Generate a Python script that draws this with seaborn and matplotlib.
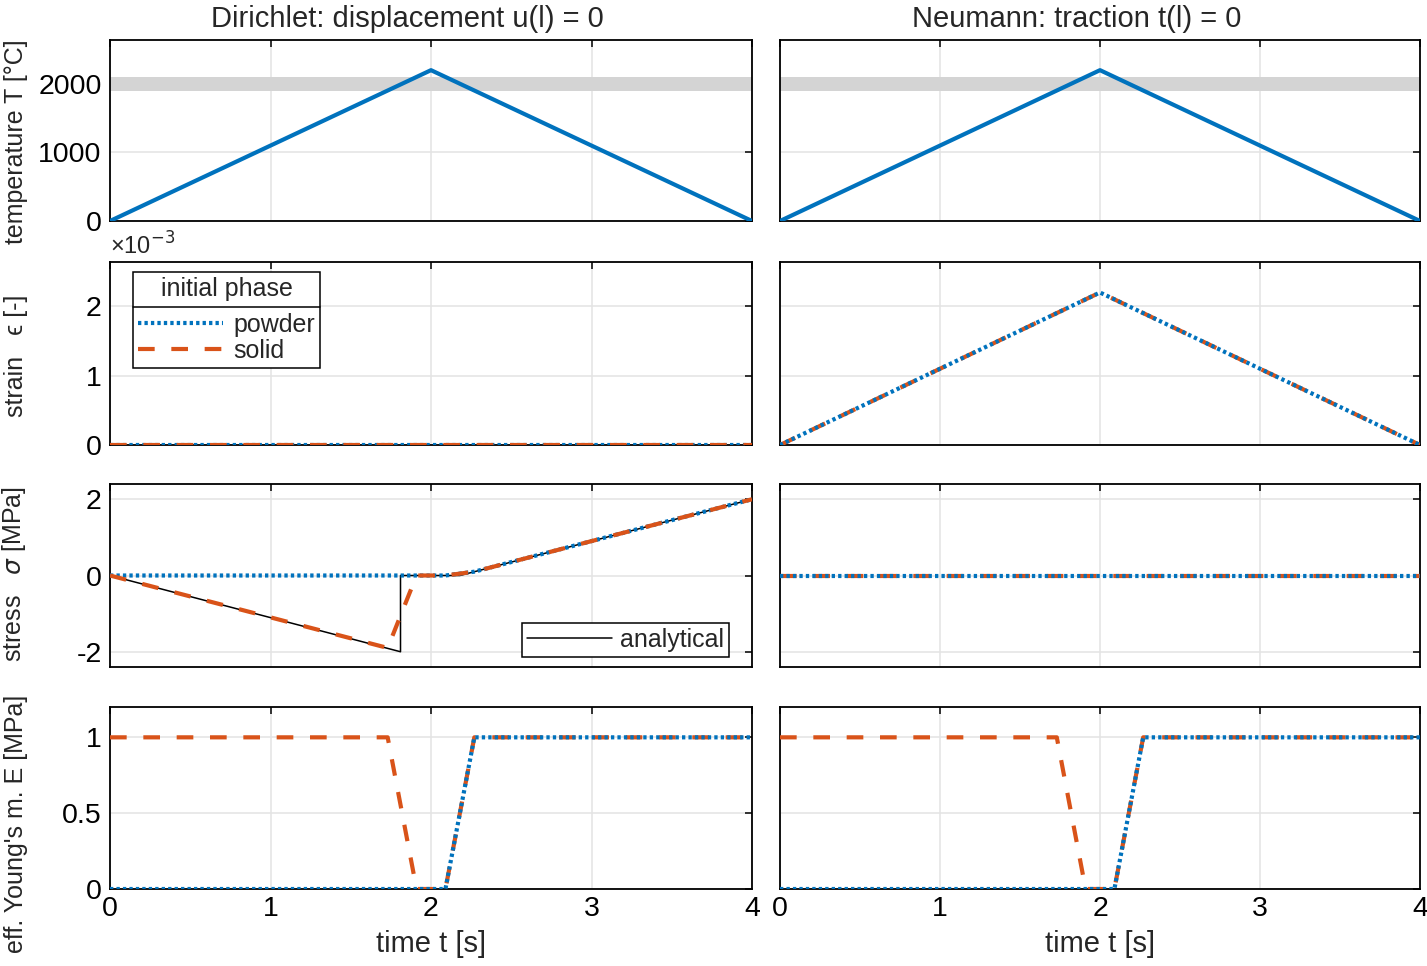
import numpy as np
import pandas as pd
import matplotlib.pyplot as plt
import seaborn as sns
from matplotlib.lines import Line2D

# valores (puntos de quiebre)
t_temp = [0, 2, 4]
temp = [0, 2200, 0]
banda_fusion = [1900, 2100]

t_cero = [0, 4]
cero = [0, 0]

t_strain = [0, 2, 4]
strain_neumann = [0, 2.2, 0]  # x 1e-3

t_stress_powder = [0, 2.09, 2.27, 4]
stress_powder = [0, 0, 0.1, 2.0]
t_stress_solid = [0, 1.73, 1.91, 2.09, 2.27, 4]
stress_solid = [0, -1.9, 0, 0, 0.1, 2.0]
t_analitico = [0, 1.81, 1.81, 2.18, 4]
stress_analitico = [0, -2.0, 0, 0, 2.0]

t_E_powder = [0, 2.09, 2.27, 4]
E_powder = [0, 0, 1, 1]
t_E_solid = [0, 1.73, 1.91, 2.09, 2.27, 4]
E_solid = [1, 1, 0, 0, 1, 1]

titulos = ["Dirichlet: displacement u(l) = 0", "Neumann: traction t(l) = 0"]
etiquetas_y = ["temperature T [°C]", "strain   \u03f5 [-]",
               "stress   $\\sigma$ [MPa]", "eff. Young's m. E [MPa]"]

azul = "#0072BD"
naranja = "#D95319"

sns.set_style("white")
plt.rcParams['font.family'] = ['Liberation Sans', 'DejaVu Sans']
plt.rcParams['mathtext.fontset'] = 'dejavusans'
plt.rcParams['axes.unicode_minus'] = False

fig = plt.figure(figsize=(14.27, 9.66), dpi=100)
W, H = 1427, 966
cols = [(110, 752), (780, 1420)]
rows = [(40, 221), (262, 445), (484, 667), (707, 889)]

lw = 3.0
pw = dict(color=azul, lw=lw, linestyle=(0, (0.8, 0.75)))
sw = dict(color=naranja, lw=lw, linestyle=(0, (4, 4)))

axes = []
for i, (y0, y1) in enumerate(rows):
    fila = []
    for j, (x0, x1) in enumerate(cols):
        ax = fig.add_axes([x0 / W, 1 - y1 / H, (x1 - x0) / W, (y1 - y0) / H])
        fila.append(ax)
    axes.append(fila)

for j in range(2):
    # temperatura
    ax = axes[0][j]
    ax.axhspan(banda_fusion[0], banda_fusion[1], color="#d4d4d4", lw=0, zorder=1.5)
    sns.lineplot(x=t_temp, y=temp, ax=ax, color=azul, lw=lw, sort=False, estimator=None, zorder=3)
    ax.set_ylim(0, 2640)
    ax.set_yticks([0, 1000, 2000])

    # deformacion
    ax = axes[1][j]
    if j == 0:
        sns.lineplot(x=t_cero, y=cero, ax=ax, sort=False, estimator=None, zorder=3, **pw)
        sns.lineplot(x=t_cero, y=cero, ax=ax, sort=False, estimator=None, zorder=3, **sw)
    else:
        sns.lineplot(x=t_strain, y=strain_neumann, ax=ax, sort=False, estimator=None, zorder=3, **sw)
        sns.lineplot(x=t_strain, y=strain_neumann, ax=ax, sort=False, estimator=None, zorder=3, **pw)
    ax.set_ylim(0, 2.64)
    ax.set_yticks([0, 1, 2])

    # tension
    ax = axes[2][j]
    if j == 0:
        sns.lineplot(x=t_analitico, y=stress_analitico, ax=ax, color="black", lw=1.1,
                     sort=False, estimator=None, zorder=3)
        sns.lineplot(x=t_stress_powder, y=stress_powder, ax=ax, sort=False, estimator=None, zorder=3, **pw)
        sns.lineplot(x=t_stress_solid, y=stress_solid, ax=ax, sort=False, estimator=None, zorder=3, **sw)
    else:
        sns.lineplot(x=t_cero, y=cero, ax=ax, sort=False, estimator=None, zorder=3, **sw)
        sns.lineplot(x=t_cero, y=cero, ax=ax, sort=False, estimator=None, zorder=3, **pw)
    ax.set_ylim(-2.4, 2.4)
    ax.set_yticks([-2, 0, 2])

    # modulo de Young
    ax = axes[3][j]
    sns.lineplot(x=t_E_solid, y=E_solid, ax=ax, sort=False, estimator=None, zorder=3, **sw)
    sns.lineplot(x=t_E_powder, y=E_powder, ax=ax, sort=False, estimator=None, zorder=3, **pw)
    ax.set_ylim(0, 1.2)
    ax.set_yticks([0, 0.5, 1])
    ax.set_yticklabels(["0", "0.5", "1"])

label_y = [0.44, 0.49, 0.51, 0.36]
for i in range(4):
    for j in range(2):
        ax = axes[i][j]
        ax.set_xlim(0, 4)
        ax.set_xticks([0, 1, 2, 3, 4])
        ax.grid(True, color="#e3e3e3", lw=1.1, zorder=0)
        ax.set_axisbelow(True)
        for s in ax.spines.values():
            s.set_color("black")
            s.set_linewidth(1.3)
        ax.tick_params(direction="in", top=True, right=True, length=5, width=1.1,
                       labelsize=20.5, colors="black")
        ax.tick_params(axis="y", pad=6)
        ax.tick_params(axis="x", pad=5)
        if i < 3:
            ax.set_xticklabels([])
        else:
            ax.set_xlabel("time t [s]", fontsize=21, labelpad=6)
        if j == 1:
            ax.set_yticklabels([])
        else:
            ax.set_ylabel(etiquetas_y[i], fontsize=18)
            ax.yaxis.set_label_coords(-0.128, label_y[i])
        if i == 0:
            ax.set_title(titulos[j], fontsize=21, pad=9, x=0.463)

axes[1][0].text(0.0, 1.012, "×10$^{-3}$", transform=axes[1][0].transAxes,
                fontsize=17, ha="left", va="bottom")

# leyendas
h_fase = [Line2D([], [], **pw), Line2D([], [], **sw)]
leg = axes[1][0].legend(h_fase, ["powder", "solid"], title="initial phase",
                        loc="upper left", bbox_to_anchor=(0.036, 0.945),
                        fontsize=18, title_fontsize=18, frameon=True, fancybox=False,
                        edgecolor="black", framealpha=1, handlelength=3.4,
                        handletextpad=0.4, borderpad=0.2, labelspacing=0.1,
                        borderaxespad=0)
leg.get_frame().set_linewidth(1.1)
leg._legend_box.sep = 0.1 * 18 + 6.5

h_an = [Line2D([], [], color="black", lw=1.1)]
leg2 = axes[2][0].legend(h_an, ["analytical"], loc="lower right",
                         bbox_to_anchor=(0.964, 0.055), fontsize=18, frameon=True,
                         fancybox=False, edgecolor="black", framealpha=1,
                         handlelength=3.4, handletextpad=0.3, borderpad=0.2,
                         borderaxespad=0)
leg2.get_frame().set_linewidth(1.1)

# linea separadora bajo el titulo de la leyenda
fig.canvas.draw()
bb = leg.get_frame().get_window_extent()
tb = leg.get_title().get_window_extent()
hb = leg._legend_handle_box.get_window_extent(fig.canvas.get_renderer())
ysep = (tb.y0 + hb.y1) / 2
inv = fig.transFigure.inverted()
(xa, ya) = inv.transform((bb.x0, ysep))
(xb, yb) = inv.transform((bb.x1, ysep))
fig.add_artist(Line2D([xa, xb], [ya, yb], color="black", lw=1.1, transform=fig.transFigure))

fig.savefig("out.png", dpi=100)
